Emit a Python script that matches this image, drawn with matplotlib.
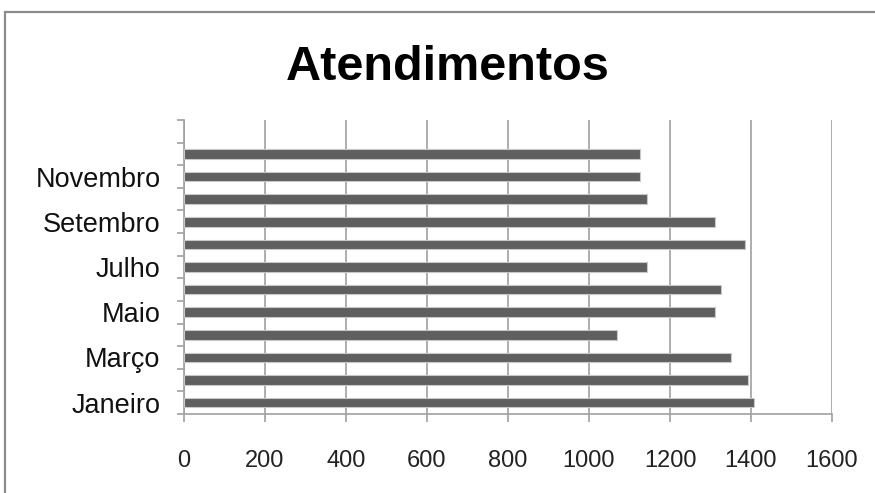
import matplotlib
matplotlib.use("Agg")
import matplotlib.pyplot as plt
import numpy as np
from matplotlib.patches import Rectangle

plt.rcParams['font.family'] = ['Liberation Sans', 'DejaVu Sans']

# dados
meses = ['Janeiro', 'Fevereiro', 'Março', 'Abril', 'Maio', 'Junho',
         'Julho', 'Agosto', 'Setembro', 'Outubro', 'Novembro', 'Dezembro']
atendimentos = [1407, 1392, 1351, 1069, 1312, 1325, 1144, 1385, 1312, 1144, 1126, 1126]
xticks = [0, 200, 400, 600, 800, 1000, 1200, 1400, 1600]

fig = plt.figure(figsize=(8.75, 4.93), dpi=100)
ax = fig.add_axes([184 / 875, 1 - 414 / 493, (832 - 184) / 875, (414 - 120) / 493])

pos = np.arange(len(meses))
ax.barh(pos, atendimentos, height=0.42, color='#5f5f5f', edgecolor='#c8c8c8',
        linewidth=0.8, zorder=3)

ax.set_xlim(0, 1600)
ax.set_ylim(-0.5, len(meses) + 0.5)
ax.set_xticks(xticks)
ax.set_xticklabels([str(v) for v in xticks], fontsize=17, color='#222222')

# rotulos so nos meses impares (como no original)
ax.set_yticks(pos[::2])
ax.set_yticklabels(meses[::2], fontsize=19.5, color='#111111')
ax.set_yticks(np.arange(-0.5, len(meses) + 1), minor=True)
ax.tick_params(axis='y', which='major', length=0, pad=17)
ax.tick_params(axis='y', which='minor', length=5, width=1.2, color='#a0a0a0', direction='out')
ax.tick_params(axis='x', length=6, width=1.2, color='#a0a0a0', pad=20)

ax.grid(axis='x', color='#a0a0a0', linewidth=1.2, zorder=0)
for s in ['top', 'right']:
    ax.spines[s].set_visible(False)
for s in ['left', 'bottom']:
    ax.spines[s].set_color('#a0a0a0')
    ax.spines[s].set_linewidth(1.2)

fig.text(448 / 875, 1 - 80 / 493, 'Atendimentos', fontsize=35, fontweight='bold',
         ha='center', va='baseline', color='black')

# moldura cinza
fig.patches.append(Rectangle((5 / 875, -0.1), 1.2, 1.1 - 12 / 493, transform=fig.transFigure,
                             fill=False, edgecolor='#8c8c8c', linewidth=1.6))

fig.savefig('out.png', dpi=100)
